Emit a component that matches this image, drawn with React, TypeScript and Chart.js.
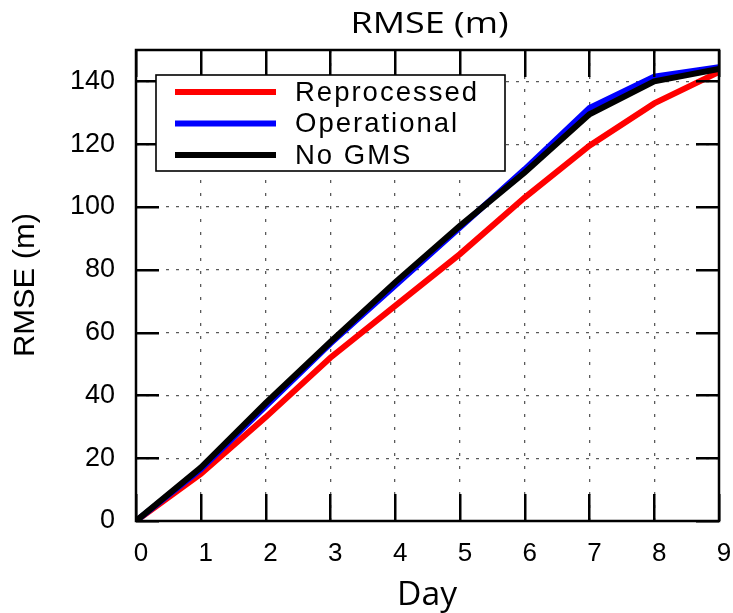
import React, { useEffect, useRef } from "react";
import { Chart, registerables } from "chart.js";

Chart.register(...registerables);

// ---- data ----
const days = [0, 1, 2, 3, 4, 5, 6, 7, 8, 9];
const reprocessed = [0, 15, 33, 52, 68.5, 85, 103, 119.5, 133, 143];
const operational = [0, 16.5, 36.5, 56.5, 75, 93.5, 112, 131.5, 141.5, 144.5];
const noGms = [0, 17, 37.5, 57, 76, 94, 111, 129.5, 140, 144];
const rmseTicks = [0, 20, 40, 60, 80, 100, 120, 140];
const dayTicks = [0, 1, 2, 3, 4, 5, 6, 7, 8, 9];
const seriesNames = ["Reprocessed", "Operational", "No GMS"];
const seriesColors = ["#ff0000", "#0000ff", "#000000"];
const chartTitle = "RMSE (m)";
const xTitle = "Day";
const yTitle = "RMSE (m)";

function drawText(
  ctx: CanvasRenderingContext2D,
  text: string,
  x: number,
  y: number,
  font: string,
  targetWidth: number | null,
  baseline: CanvasTextBaseline,
  rotate = false
) {
  ctx.save();
  ctx.font = font;
  ctx.fillStyle = "#000";
  ctx.textAlign = "center";
  ctx.textBaseline = baseline;
  const w = ctx.measureText(text).width;
  const sx = targetWidth ? targetWidth / w : 1;
  ctx.translate(x, y);
  if (rotate) ctx.rotate(-Math.PI / 2);
  ctx.scale(sx, 1);
  ctx.fillText(text, 0, 0);
  ctx.restore();
}

const framePlugin = {
  id: "plotFrame",
  afterDraw(chart: any) {
    const { ctx, chartArea: a } = chart;
    const sx = chart.scales.x;
    const sy = chart.scales.y;
    ctx.save();
    ctx.setLineDash([]);
    // inner tick marks (solid)
    ctx.fillStyle = "#000000";
    dayTicks.forEach((v) => {
      const px = Math.round(sx.getPixelForValue(v));
      ctx.fillRect(px - 1, a.bottom - 27, 2.5, 27);
      ctx.fillRect(px - 1, a.top, 2.5, 27);
    });
    rmseTicks.forEach((v) => {
      const py = Math.round(sy.getPixelForValue(v));
      ctx.fillRect(a.left, py - 1, 23, 2.5);
      ctx.fillRect(a.right - 23, py - 1, 23, 2.5);
    });

    // frame
    ctx.strokeStyle = "#000";
    ctx.lineWidth = 2.5;
    ctx.strokeRect(a.left, a.top, a.right - a.left, a.bottom - a.top);

    // legend
    const bx = a.left + 20;
    const by = a.top + 25;
    ctx.fillStyle = "#fff";
    ctx.fillRect(bx, by, 349, 96);
    ctx.lineWidth = 1.6;
    ctx.strokeRect(bx, by, 349, 96);
    ctx.font = "27.5px 'Liberation Sans', Arial, sans-serif";
    (ctx as any).letterSpacing = "2px";
    ctx.textAlign = "left";
    ctx.textBaseline = "middle";
    chart.data.datasets.forEach((ds: any, i: number) => {
      const ly = a.top + 42 + i * 31.5;
      ctx.strokeStyle = ds.borderColor;
      ctx.lineWidth = 6;
      ctx.beginPath();
      ctx.moveTo(a.left + 39, ly);
      ctx.lineTo(a.left + 140, ly);
      ctx.stroke();
      ctx.fillStyle = "#000";
      ctx.fillText(ds.label, a.left + 159, ly + 1);
    });
    ctx.restore();

    drawText(ctx, chartTitle, 429.5, 33, "29px 'Open Sans', sans-serif", 158, "alphabetic");
    drawText(ctx, xTitle, 427, 605, "32px 'Open Sans', sans-serif", 60, "alphabetic");
    drawText(ctx, yTitle, 26, 285, "29px 'Liberation Sans', Arial, sans-serif", 144, "middle", true);
  },
};

export default function App() {
  const ref = useRef<HTMLCanvasElement | null>(null);
  useEffect(() => {
    if (!ref.current) return;
    const series = [reprocessed, operational, noGms];
    const chart = new Chart(ref.current, {
      type: "line",
      data: {
        datasets: series.map((vals, i) => ({
          label: seriesNames[i],
          data: days.map((d, j) => ({ x: d, y: vals[j] })),
          borderColor: seriesColors[i],
          backgroundColor: seriesColors[i],
          borderWidth: 6,
          pointRadius: 0,
          tension: 0,
          fill: false,
          order: 2 - i,
        })),
      },
      options: {
        animation: false,
        responsive: false,
        events: [],
        layout: { padding: { top: 50, right: 14, left: 0, bottom: 0 } },
        plugins: {
          legend: { display: false },
          title: { display: false },
          tooltip: { enabled: false },
        },
        scales: {
          x: {
            type: "linear",
            min: 0,
            max: 9,
            afterBuildTicks: (s: any) => {
              s.ticks = dayTicks.map((v) => ({ value: v }));
            },
            afterFit: (s: any) => {
              s.height = 92;
              s.paddingLeft = 0;
              s.paddingRight = 0;
            },
            ticks: {
              autoSkip: false,
              maxRotation: 0,
              padding: 17,
              labelOffset: 5,
              color: "#000",
              font: { family: "'Liberation Sans', Arial, sans-serif", size: 26 },
            },
            grid: { color: "#5a5a5a", lineWidth: 1.3, drawTicks: false },
            border: { display: false, dash: [3, 10] },
          },
          y: {
            type: "linear",
            min: 0,
            max: 150,
            afterBuildTicks: (s: any) => {
              s.ticks = rmseTicks.map((v) => ({ value: v }));
            },
            afterFit: (s: any) => {
              s.width = 136;
              s.paddingTop = 0;
              s.paddingBottom = 0;
            },
            ticks: {
              padding: 21,
              color: "#000",
              font: { family: "'Liberation Sans', Arial, sans-serif", size: 27 },
            },
            grid: { color: "#5a5a5a", lineWidth: 1.3, drawTicks: false },
            border: { display: false, dash: [3, 7] },
          },
        },
      },
      plugins: [framePlugin],
    });
    return () => chart.destroy();
  }, []);
  return (
    <div style={{ position: "fixed", left: 0, top: 0, width: 733, height: 613, background: "#fff" }}>
      <canvas ref={ref} width={733} height={613} style={{ display: "block" }} />
    </div>
  );
}
